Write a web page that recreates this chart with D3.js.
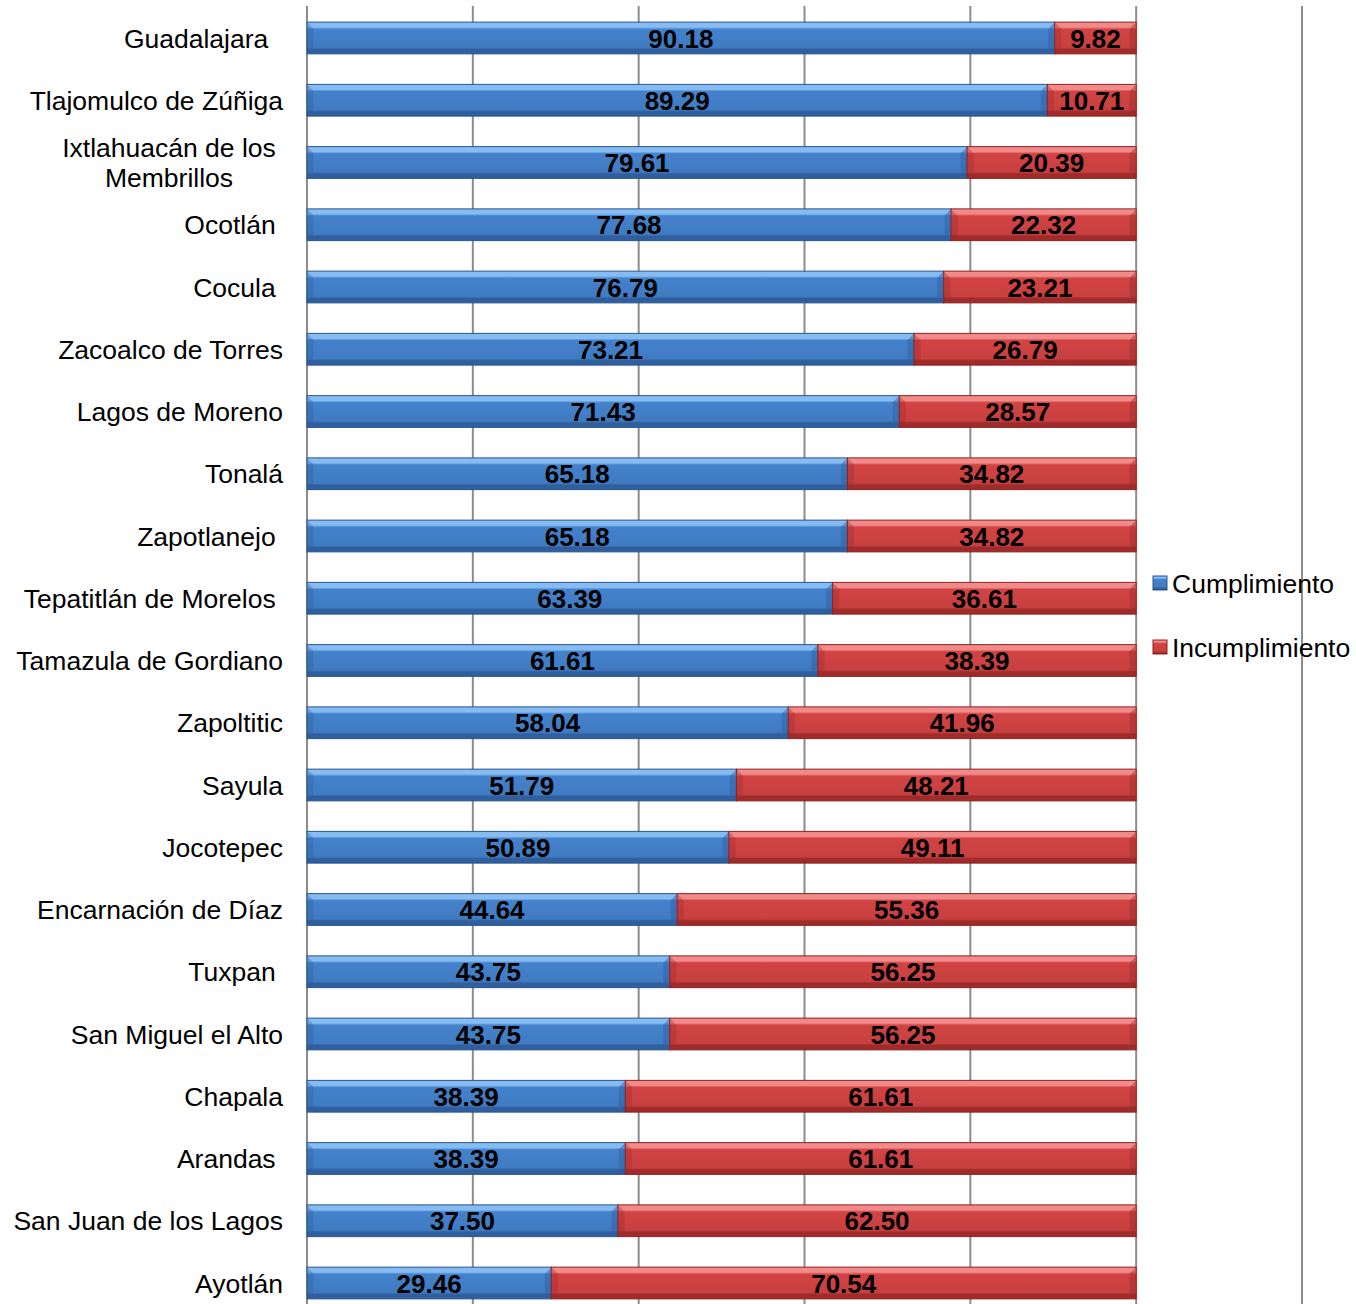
<!DOCTYPE html>
<html>
<head>
<meta charset="utf-8">
<script src="https://cdn.jsdelivr.net/npm/d3@7"></script>
<style>
  body { margin: 0; background: #ffffff; }
  text { font-family: "Liberation Sans", Arial, sans-serif; }
</style>
</head>
<body>
<script>
// Data
var municipios = ["Guadalajara  ", "Tlajomulco de Zúñiga", "Ixtlahuacán de los\nMembrillos", "Ocotlán ", "Cocula ",
  "Zacoalco de Torres", "Lagos de Moreno", "Tonalá", "Zapotlanejo ", "Tepatitlán de Morelos ", "Tamazula de Gordiano",
  "Zapoltitic", "Sayula", "Jocotepec", "Encarnación de Díaz", "Tuxpan ", "San Miguel el Alto", "Chapala", "Arandas ",
  "San Juan de los Lagos", "Ayotlán"];
var cumplimiento = [90.18, 89.29, 79.61, 77.68, 76.79, 73.21, 71.43, 65.18, 65.18, 63.39, 61.61, 58.04, 51.79, 50.89, 44.64, 43.75, 43.75, 38.39, 38.39, 37.50, 29.46];
var incumplimiento = [9.82, 10.71, 20.39, 22.32, 23.21, 26.79, 28.57, 34.82, 34.82, 36.61, 38.39, 41.96, 48.21, 49.11, 55.36, 56.25, 56.25, 61.61, 61.61, 62.50, 70.54];
var series = ["Cumplimiento", "Incumplimiento"];
var xTicks = [0, 20, 40, 60, 80, 100, 120];

//Settings
var width = 1356;
var height = 1304;
var labelSize = 26.5;
var colors = {
  Cumplimiento: { light: "#86bcf2", mid: "#4482cc", dark: "#2f5f9f", edge: "#2a5590" },
  Incumplimiento: { light: "#f28a8a", mid: "#d24343", dark: "#a12a2a", edge: "#8e2222" }
};

var svg = d3.select("body").append("svg").attr("width", width).attr("height", height);

//Gradients
var defs = svg.append("defs");
series.forEach(function(s, i) {
  var c = colors[s];
  var g = defs.append("linearGradient").attr("id", "grad" + i).attr("x1", 0).attr("y1", 0).attr("x2", 0).attr("y2", 1);
  g.append("stop").attr("offset", "0%").attr("stop-color", c.light);
  g.append("stop").attr("offset", "16%").attr("stop-color", c.light);
  g.append("stop").attr("offset", "22%").attr("stop-color", c.mid);
  g.append("stop").attr("offset", "80%").attr("stop-color", d3.color(c.mid).darker(0.15));
  g.append("stop").attr("offset", "86%").attr("stop-color", c.dark);
  g.append("stop").attr("offset", "100%").attr("stop-color", c.dark);
});

//Scales
var x = d3.scaleLinear().domain([0, 120]).range([307, 1302]);
var y = d3.scaleBand().domain(d3.range(municipios.length)).range([6.875, 1314.125]).paddingInner(0.49).paddingOuter(0.245);

//Gridlines
svg.append("g").selectAll("line").data(xTicks).join("line")
  .attr("x1", d => x(d)).attr("x2", d => x(d))
  .attr("y1", 6).attr("y2", height)
  .attr("stroke", "#8c8c8c").attr("stroke-width", 2);

//Bars
var rows = municipios.map(function(m, i) {
  return [
    { s: 0, x0: 0, x1: cumplimiento[i], v: cumplimiento[i], i: i },
    { s: 1, x0: cumplimiento[i], x1: cumplimiento[i] + incumplimiento[i], v: incumplimiento[i], i: i }
  ];
}).flat();

var bh = y.bandwidth();
var bars = svg.append("g").selectAll("g").data(rows).join("g");
bars.append("rect")
  .attr("x", d => x(d.x0)).attr("y", d => y(d.i))
  .attr("width", d => x(d.x1) - x(d.x0)).attr("height", bh)
  .attr("fill", d => "url(#grad" + d.s + ")")
  .attr("stroke", d => colors[series[d.s]].edge).attr("stroke-width", 1);
// bevel ends
bars.append("path")
  .attr("d", function(d) {
    var a = x(d.x0) + 0.5, t = y(d.i) + 0.5, b = y(d.i) + bh - 0.5, e = 6;
    return "M" + a + "," + t + "L" + (a + e) + "," + (t + e) + "L" + (a + e) + "," + (b - e) + "L" + a + "," + b + "Z";
  })
  .attr("fill", d => colors[series[d.s]].dark).attr("opacity", 0.35);
bars.append("path")
  .attr("d", function(d) {
    var a = x(d.x1) - 0.5, t = y(d.i) + 0.5, b = y(d.i) + bh - 0.5, e = 6;
    return "M" + a + "," + t + "L" + (a - e) + "," + (t + e) + "L" + (a - e) + "," + (b - e) + "L" + a + "," + b + "Z";
  })
  .attr("fill", d => colors[series[d.s]].dark).attr("opacity", 0.45);

//Value labels
bars.append("text")
  .attr("x", d => (x(d.x0) + x(d.x1)) / 2)
  .attr("y", d => y(d.i) + bh / 2)
  .attr("dy", "0.37em")
  .attr("text-anchor", "middle")
  .attr("font-weight", "bold")
  .attr("font-size", 26)
  .attr("fill", "#000")
  .text(d => d.v.toFixed(2));

//Category labels
var labels = svg.append("g").selectAll("text").data(municipios).join("text")
  .attr("font-size", labelSize)
  .attr("fill", "#000")
  .style("white-space", "pre");
labels.each(function(m, i) {
  var t = d3.select(this);
  var lines = m.split("\n");
  var cy = y(i) + bh / 2;
  if (lines.length == 1) {
    t.attr("x", 283).attr("y", cy).attr("dy", "0.36em").attr("text-anchor", "end").text(m);
  } else {
    t.attr("text-anchor", "middle");
    lines.forEach(function(l, k) {
      t.append("tspan").attr("x", 169).attr("y", cy + (k - (lines.length - 1) / 2) * 30).attr("dy", "0.36em").text(l);
    });
  }
});

//Legend
var legend = svg.append("g").selectAll("g").data(series).join("g")
  .attr("transform", (d, i) => "translate(1153," + (583 + i * 64) + ")");
legend.append("rect").attr("x", 0).attr("y", -7).attr("width", 14).attr("height", 14)
  .attr("fill", (d, i) => "url(#grad" + i + ")").attr("stroke", d => colors[d].edge).attr("stroke-width", 1);
legend.append("text").attr("x", 19).attr("y", 0).attr("dy", "0.36em").attr("font-size", labelSize).attr("fill", "#000").text(d => d);
</script>
</body>
</html>
